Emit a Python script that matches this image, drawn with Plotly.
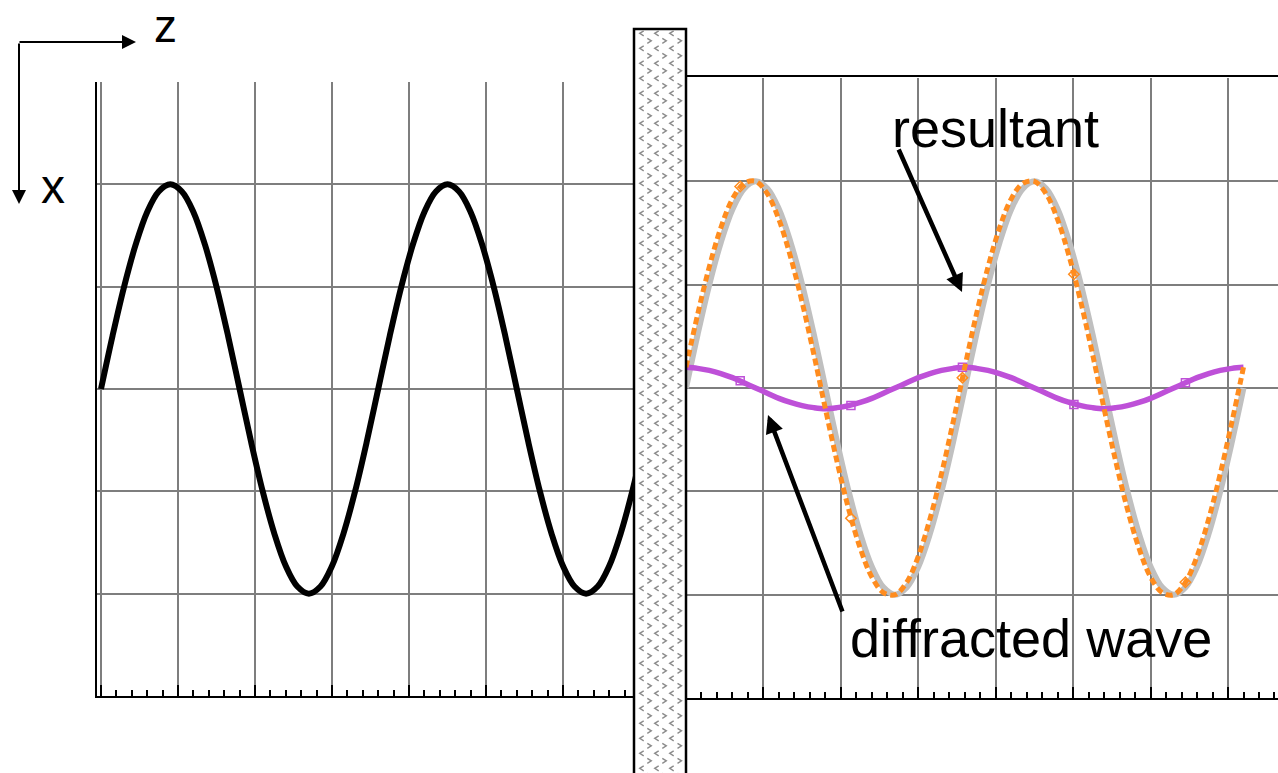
import plotly.graph_objects as go

# Phase along the propagation direction (degrees), sampled every 15 degrees
z_deg = [0, 15, 30, 45, 60, 75, 90, 105, 120, 135, 150, 165, 180, 195, 210, 225,
         240, 255, 270, 285, 300, 315, 330, 345, 360, 375, 390, 405, 420, 435,
         450, 465, 480, 495, 510, 525, 540, 555, 570, 585, 600, 615, 630, 645,
         660, 675, 690, 705, 720]

# Incident wave displacement (black before the aperture, grey after it)
incident = [0, 0.52, 1.0, 1.41, 1.73, 1.93, 2.0, 1.93, 1.73, 1.41, 1.0, 0.52,
            0, -0.52, -1.0, -1.41, -1.73, -1.93, -2.0, -1.93, -1.73, -1.41, -1.0, -0.52,
            0, 0.52, 1.0, 1.41, 1.73, 1.93, 2.0, 1.93, 1.73, 1.41, 1.0, 0.52,
            0, -0.52, -1.0, -1.41, -1.73, -1.93, -2.0, -1.93, -1.73, -1.41, -1.0, -0.52,
            0]

# Small diffracted wave, a quarter period out of step with the incident wave
diffracted = [0.2, 0.19, 0.17, 0.14, 0.10, 0.05, 0, -0.05, -0.10, -0.14, -0.17, -0.19,
              -0.2, -0.19, -0.17, -0.14, -0.10, -0.05, 0, 0.05, 0.10, 0.14, 0.17, 0.19,
              0.2, 0.19, 0.17, 0.14, 0.10, 0.05, 0, -0.05, -0.10, -0.14, -0.17, -0.19,
              -0.2, -0.19, -0.17, -0.14, -0.10, -0.05, 0, 0.05, 0.10, 0.14, 0.17, 0.19,
              0.2]

# Resultant of incident + diffracted
resultant = [0.2, 0.71, 1.17, 1.55, 1.83, 1.98, 2.0, 1.88, 1.63, 1.27, 0.83, 0.33,
             -0.2, -0.71, -1.17, -1.55, -1.83, -1.98, -2.0, -1.88, -1.63, -1.27, -0.83, -0.33,
             0.2, 0.71, 1.17, 1.55, 1.83, 1.98, 2.0, 1.88, 1.63, 1.27, 0.83, 0.33,
             -0.2, -0.71, -1.17, -1.55, -1.83, -1.98, -2.0, -1.88, -1.63, -1.27, -0.83, -0.33,
             0.2]

# Sparse marker points on the diffracted and resultant series
mark_z = [70, 213, 357, 501, 645]
diffracted_marks = [0.07, -0.17, 0.2, -0.16, 0.05]
resultant_marks = [1.95, -1.26, 0.1, 1.1, -1.88]

W, H = 1278, 773
FONT = "Liberation Sans, Arial, sans-serif"
GRID = "#7E7E7E"
ORANGE = "#FF8C1E"
PURPLE = "#BE50D8"


def px_x(v):
    return v / W


def px_y(v):
    return 1 - v / H


fig = go.Figure()

# Before the aperture
fig.add_trace(go.Scatter(x=z_deg, y=incident, mode="lines", xaxis="x", yaxis="y",
                         line=dict(color="black", width=6, shape="spline"),
                         showlegend=False, hoverinfo="skip"))

# After the aperture
fig.add_trace(go.Scatter(x=z_deg, y=incident, mode="lines", xaxis="x2", yaxis="y2",
                         line=dict(color="#C0C0C0", width=6, shape="spline"),
                         showlegend=False, hoverinfo="skip"))
fig.add_trace(go.Scatter(x=z_deg, y=diffracted, mode="lines", xaxis="x2", yaxis="y2",
                         line=dict(color=PURPLE, width=5.5, shape="spline"),
                         showlegend=False, hoverinfo="skip"))
fig.add_trace(go.Scatter(x=mark_z, y=diffracted_marks, mode="markers", xaxis="x2", yaxis="y2",
                         marker=dict(symbol="square-open", size=8, color=PURPLE,
                                     line=dict(width=1.5, color=PURPLE)),
                         showlegend=False, hoverinfo="skip"))
fig.add_trace(go.Scatter(x=z_deg, y=resultant, mode="lines", xaxis="x2", yaxis="y2",
                         line=dict(color=ORANGE, width=5, shape="spline", dash="7px,4px"),
                         showlegend=False, hoverinfo="skip"))
fig.add_trace(go.Scatter(x=mark_z, y=resultant_marks, mode="markers", xaxis="x2", yaxis="y2",
                         marker=dict(symbol="diamond-open", size=8, color=ORANGE,
                                     line=dict(width=1.5, color=ORANGE)),
                         showlegend=False, hoverinfo="skip"))

xaxis_common = dict(
    showticklabels=False, showgrid=True, gridcolor=GRID, gridwidth=2,
    zeroline=False, showline=True, linecolor="black", linewidth=2,
    ticks="inside", ticklen=11, tickwidth=2, tickcolor="black",
    tick0=0, dtick=100,
    minor=dict(tick0=0, dtick=20, ticks="inside", ticklen=6, tickwidth=2,
               tickcolor="black", showgrid=False),
    fixedrange=True,
)
yaxis_common = dict(
    showticklabels=False, showgrid=True, gridcolor=GRID, gridwidth=2,
    zeroline=False, ticks="", range=[-3, 3], tick0=0, dtick=1, fixedrange=True,
)

fig.update_layout(
    width=W, height=H,
    margin=dict(l=0, r=0, t=0, b=0),
    paper_bgcolor="white", plot_bgcolor="white",
    xaxis=dict(xaxis_common, domain=[px_x(97), px_x(690)],
               range=[-5.2, -5.2 + (690 - 97) / 0.77], anchor="y"),
    yaxis=dict(yaxis_common, domain=[px_y(696), px_y(82)], anchor="x",
               showline=True, linecolor="black", linewidth=2),
    xaxis2=dict(xaxis_common, domain=[px_x(686), 1.0],
                range=[0, (W - 686) / 0.7743], anchor="y2"),
    yaxis2=dict(yaxis_common, domain=[px_y(698), px_y(78)], anchor="x2",
                showline=False),
)

shapes = []
# Top border of the right-hand frame
shapes.append(dict(type="line", xref="paper", yref="paper",
                   x0=px_x(686), x1=1.0, y0=px_y(76), y1=px_y(76),
                   line=dict(color="black", width=2), layer="above"))

# Screen with the aperture edge
shapes.append(dict(type="rect", xref="paper", yref="paper",
                   x0=px_x(634), x1=px_x(686), y0=px_y(29), y1=px_y(780),
                   fillcolor="white", line=dict(color="black", width=2.5), layer="above"))

# Chevron texture inside the screen
parts = []
row = 0
while True:
    y_lt = 33.3 + 15 * row
    y_gt = 40.8 + 15 * row
    if y_lt > 776:
        break
    for cx in (641.7, 656.7, 671.7):
        parts.append("M{:.5f},{:.5f}L{:.5f},{:.5f}L{:.5f},{:.5f}".format(
            px_x(cx + 2), px_y(y_lt - 2.5), px_x(cx - 2), px_y(y_lt),
            px_x(cx + 2), px_y(y_lt + 2.5)))
    if y_gt < 776:
        for cx in (649.3, 664.3, 679.5):
            parts.append("M{:.5f},{:.5f}L{:.5f},{:.5f}L{:.5f},{:.5f}".format(
                px_x(cx - 2), px_y(y_gt - 2.5), px_x(cx + 2), px_y(y_gt),
                px_x(cx - 2), px_y(y_gt + 2.5)))
    row += 1
shapes.append(dict(type="path", xref="paper", yref="paper", path="".join(parts),
                   line=dict(color="#8C8C8C", width=1.4), layer="above"))
fig.update_layout(shapes=shapes)

annotations = []
# Coordinate-system arrows
annotations.append(dict(xref="paper", yref="paper", x=px_x(136), y=px_y(42),
                        ax=-118, ay=0, text="", showarrow=True,
                        arrowhead=2, arrowsize=1.4, arrowwidth=2, arrowcolor="black"))
annotations.append(dict(xref="paper", yref="paper", x=px_x(19), y=px_y(204),
                        ax=0, ay=-162, text="", showarrow=True,
                        arrowhead=2, arrowsize=1.4, arrowwidth=2, arrowcolor="black"))
annotations.append(dict(xref="paper", yref="paper", x=px_x(166), y=px_y(26),
                        text="z", showarrow=False, xanchor="center", yanchor="middle",
                        font=dict(family=FONT, size=46, color="black")))
annotations.append(dict(xref="paper", yref="paper", x=px_x(53), y=px_y(186),
                        text="x", showarrow=False, xanchor="center", yanchor="middle",
                        font=dict(family=FONT, size=48, color="black")))

# Curve labels with pointer arrows
annotations.append(dict(xref="paper", yref="paper", x=px_x(890), y=px_y(128),
                        text="resultant", showarrow=False, xanchor="left", yanchor="middle",
                        font=dict(family=FONT, size=54, color="black")))
annotations.append(dict(xref="paper", yref="paper", x=px_x(962), y=px_y(292),
                        ax=-64, ay=-144, text="", showarrow=True,
                        arrowhead=2, arrowsize=0.8, arrowwidth=4.5, arrowcolor="black"))
annotations.append(dict(xref="paper", yref="paper", x=px_x(848), y=px_y(638),
                        text="diffracted wave", showarrow=False, xanchor="left", yanchor="middle",
                        font=dict(family=FONT, size=54, color="black")))
annotations.append(dict(xref="paper", yref="paper", x=px_x(768), y=px_y(415),
                        ax=75, ay=198, text="", showarrow=True,
                        arrowhead=2, arrowsize=0.8, arrowwidth=4.5, arrowcolor="black"))
fig.update_layout(annotations=annotations)

fig.write_html("out.html")
